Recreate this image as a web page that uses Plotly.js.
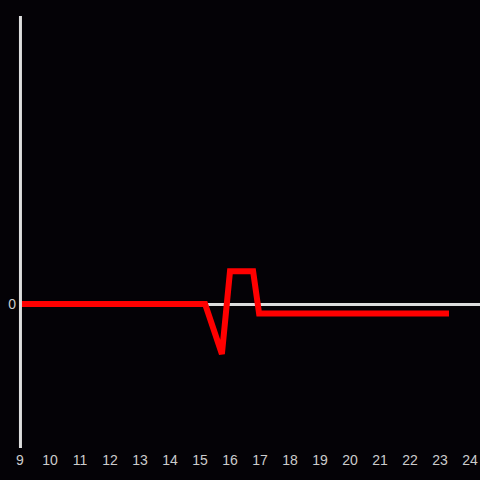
<!DOCTYPE html>
<html>
<head>
<meta charset="utf-8">
<script src="https://cdn.plot.ly/plotly-3.0.1.min.js"></script>
<style>html,body{margin:0;padding:0;background:#040206;}</style>
</head>
<body>
<div id="chart" style="width:480px;height:480px;"></div>
<script>
const xValues = [9, 15.17, 15.73, 16.0, 16.77, 16.97, 23.3];
const yValues = [0, 0, -0.52, 0.34, 0.34, -0.1, -0.1];
const xTicks = [9,10,11,12,13,14,15,16,17,18,19,20,21,22,23,24];

Plotly.newPlot('chart', [{
  x: xValues, y: yValues, type: 'scatter', mode: 'lines',
  line: {color: '#ff0000', width: 6},
  hoverinfo: 'none'
}], {
  width: 480, height: 480,
  margin: {l: 20, r: 0, t: 16, b: 32},
  paper_bgcolor: '#040206', plot_bgcolor: '#040206',
  showlegend: false,
  font: {family: 'Liberation Sans, Arial, sans-serif', size: 14, color: '#cccccc'},
  xaxis: {range: [9, 24.333], tickvals: xTicks, ticktext: xTicks.map(String),
          showgrid: false, zeroline: false, showline: false, ticks: '', ticklabelstandoff: 2},
  yaxis: {range: [-1.5, 3], tickvals: [0], ticktext: ['0'], showgrid: false,
          zeroline: true, zerolinecolor: '#dddddd', zerolinewidth: 3,
          showline: false, ticks: '', ticklabelstandoff: 3},
  shapes: [{type: 'line', xref: 'paper', yref: 'paper', x0: 0.001, x1: 0.001, y0: 0, y1: 1,
            line: {color: '#dddddd', width: 3}, layer: 'above'}]
}, {staticPlot: true});
</script>
</body>
</html>
